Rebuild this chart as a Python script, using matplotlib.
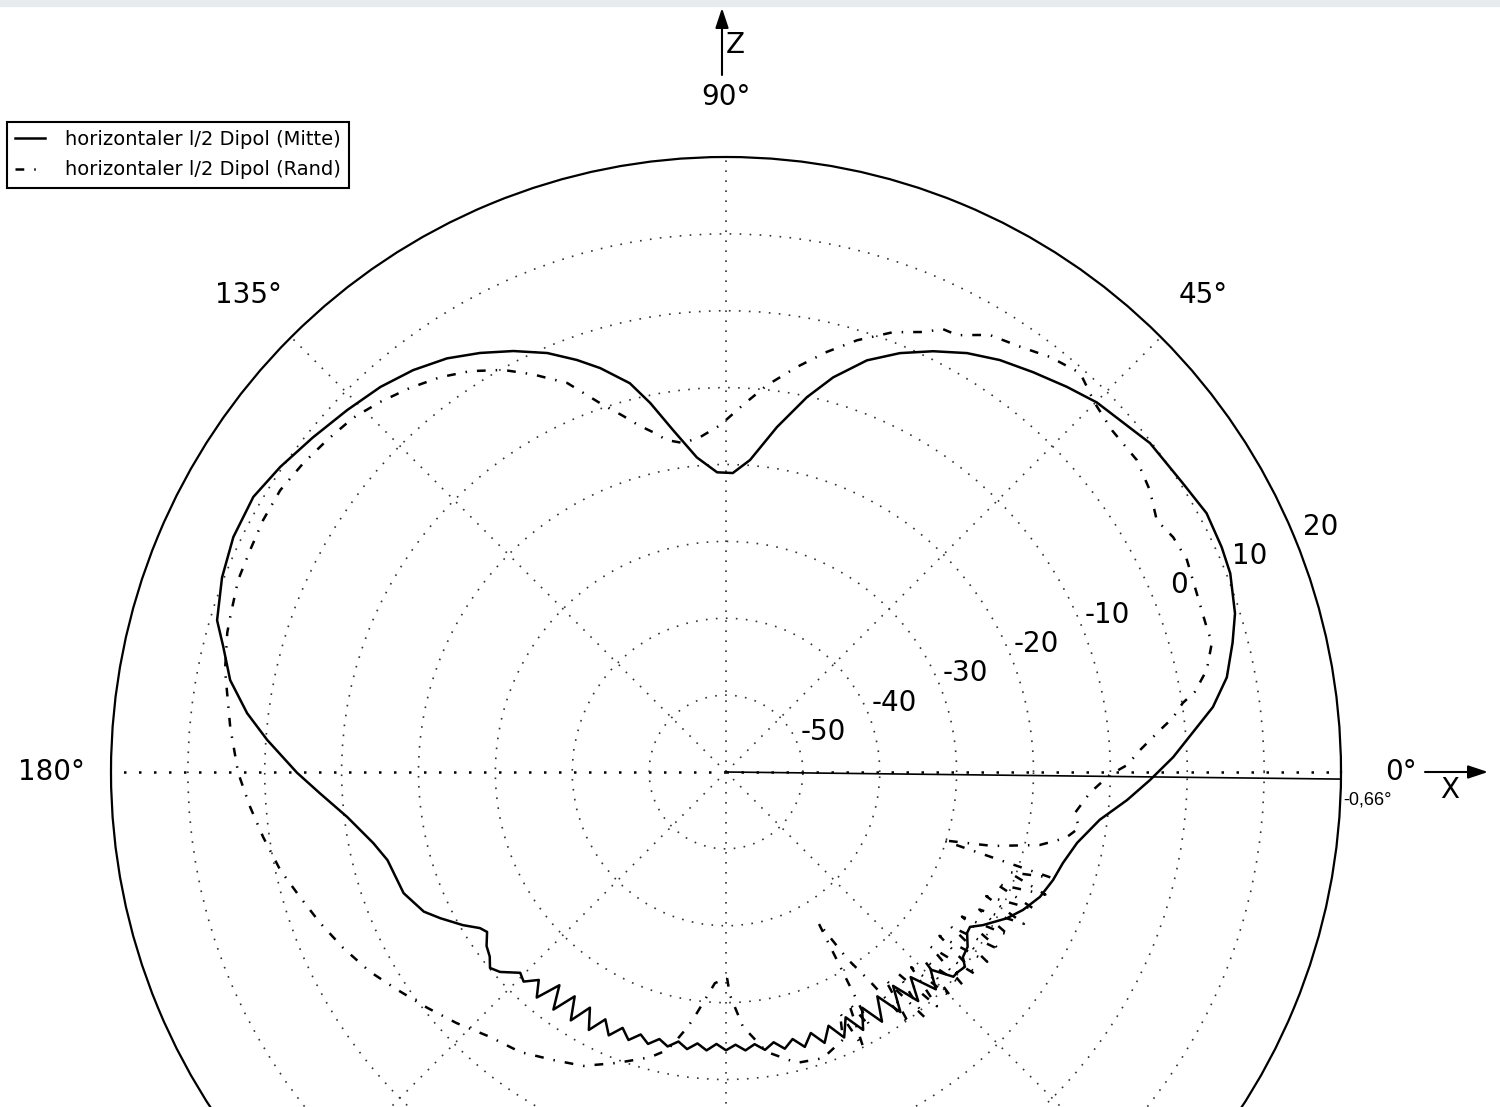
import numpy as np
import matplotlib
matplotlib.use("Agg")
import matplotlib.pyplot as plt
from matplotlib.patches import Rectangle

# Mitte (solid) pattern: angle in degrees, level in dB
mitte_deg = [-41.0, -39.2, -38.0, -35.9, -33.7, -32.4, -30.8, -27.5, -24.9, -21.7,
             -18.3, -15.1, -11.4, -7.3, -4.0, -1.1, 1.9, 4.8, 7.6, 10.7,
             14.3, 17.3, 21.5, 24.4, 28.3, 32.3, 37.8, 44.9, 48.5, 52.5,
             56.4, 60.1, 63.8, 67.45, 71.1, 74.8, 77.8, 81.6, 85.6, 88.7,
             91.7, 95.3, 98.8, 101.6, 103.9, 107.3, 109.9, 113.1, 116.8, 120.4,
             124.0, 127.9, 131.9, 136.3, 141.0, 145.6, 149.8, 154.5, 158.9, 163.4,
             166.0, 169.5, 173.0, 176.0, 180.1, 183.0, 186.8, 191.4, 194.6, 200.6,
             204.8, 207.1, 210.2, 212.4, 213.8, 216.0, 218.0, 219.7, 221.5, 224.3,
             226, 228, 230, 232, 234, 236, 238, 240, 242, 244,
             246, 248, 250, 252, 254, 256, 258, 260, 262, 264,
             266, 268, 270, 272, 274, 276, 278, 280, 282, 284,
             286, 288, 290, 292, 294, 296, 298, 300, 302, 304,
             306, 308, 310, 312, 314, 316, 318]
mitte_db = [-20.2, -19.9, -20.9, -21.2, -22.3, -22.4, -21.1, -18.8, -17.4, -16.05,
            -15.2, -14.6, -13.4, -11.0, -7.7, -4.85, -1.8, 0.9, 3.9, 6.3,
            8.0, 9.35, 10.5, 10.8, 11.0, 10.3, 9.8, 8.1, 6.9, 5.57,
            4.34, 2.86, 1.0, -1.0, -3.4, -6.8, -10.1, -14.65, -19.3, -21.1,
            -21.0, -18.9, -15.0, -11.0, -7.9, -4.97, -3.0, -0.75, 1.35, 3.2,
            4.9, 6.25, 7.3, 8.15, 9.15, 10.26, 11.14, 11.0, 10.27, 9.08,
            7.4, 5.6, 2.76, -0.17, -4.2, -7.1, -10.4, -13.2, -14.5, -15.2,
            -16.7, -18.25, -20.4, -22.1, -22.6, -21.5, -21.0, -20.1, -20.75, -22.6,
            -22.1, -23.6, -21.7, -24.8, -21.8, -24.8, -21.9, -24.6, -22.0, -24.2,
            -22.5, -24.1, -22.9, -24.1, -23.2, -24.2, -23.5, -24.4, -23.6, -24.5,
            -23.7, -24.6, -23.8, -24.5, -23.7, -24.4, -23.5, -24.3, -23.2, -24.2,
            -22.8, -24.3, -22.5, -24.4, -22.2, -24.5, -22.0, -24.6, -21.7, -24.8,
            -21.4, -24.7, -21.1, -24.1, -20.7, -23.0, -20.2]

# Rand (dash-dot) pattern
rand_deg = [-89.7, -89.0, -86.2, -81.7, -76.3, -71.3, -66.4, -64.7, -63.5, -62.0,
            -60.5, -58.5, -57.0, -55.5, -54.0, -52.5, -51.0, -49.5, -48.0, -46.5,
            -45.0, -43.5, -42.0, -40.5, -39.0, -37.5, -36.0, -34.5, -33.0, -31.5,
            -30.0, -28.5, -27.0, -25.5, -24.0, -22.5, -21.0, -19.5, -18.0, -17.5,
            -15.5, -13.1, -11.0, -9.0, -6.7, -3.3, -0.45, 1.0, 3.0, 5.5,
            6.9, 8.6, 9.7, 12.0, 14.9, 16.8, 20.8, 24.7, 27.7, 30.3,
            33.6, 37.2, 41.5, 45.0, 48.4, 52.0, 55.2, 58.9, 62.1, 63.9,
            65.9, 69.2, 73.1, 76.5, 80.05, 83.95, 87.35, 91.0, 94.4, 97.4,
            100.1, 102.1, 104.2, 106.1, 108.85, 112.2, 115.9, 119.0, 122.55, 125.9,
            129.45, 133.1, 136.5, 140.2, 143.85, 147.7, 151.45, 155.0, 158.5, 162.6,
            164.4, 168.5, 174.8, 180.1, 184.2, 188.0, 192.4, 196.4, 200.4, 204.7,
            209.3, 213.5, 218.3, 223.0, 228.3, 233.7, 239.0, 244.1, 249.5, 255.1,
            258.0, 259.6, 261.5, 263.1, 267.0]
rand_db = [-33.2, -31.0, -26.8, -23.2, -21.05, -20.7, -22.0, -25.3, -20.0, -26.0,
           -22.0, -37.0, -31.0, -27.0, -19.5, -26.0, -19.0, -25.5, -19.0, -25.0,
           -18.5, -24.5, -18.5, -25.0, -18.0, -25.0, -18.0, -24.5, -17.5, -24.0,
           -17.5, -22.5, -16.5, -22.5, -16.0, -22.0, -15.5, -21.0, -15.5, -30.5,
           -24.0, -18.1, -15.0, -13.5, -14.3, -12.6, -10.1, -7.8, -6.1, -3.3,
           -1.46, 0.1, 1.87, 3.94, 5.4, 5.3, 5.5, 6.0, 5.7, 4.9,
           6.2, 7.1, 7.06, 7.85, 9.4, 8.5, 7.3, 6.4, 4.3, 4.15,
           2.7, 1.2, -1.3, -3.8, -6.5, -9.4, -12.2, -14.9, -16.3, -16.85,
           -16.15, -14.8, -13.45, -11.8, -9.3, -5.35, -2.5, -0.2, 1.86, 3.4,
           4.7, 5.9, 6.9, 7.5, 8.1, 8.6, 8.55, 8.3, 8.2, 7.58,
           7.36, 6.5, 4.76, 3.46, 2.07, 0.8, -0.63, -2.26, -3.67, -5.2,
           -6.9, -8.7, -10.5, -12.1, -13.85, -14.8, -16.3, -17.5, -19.6, -21.6,
           -23.0, -24.6, -26.5, -28.4, -32.5]

ring_levels = [-50, -40, -30, -20, -10, 0, 10, 20]
angle_labels = {0: "0°", 45: "45°", 90: "90°", 135: "135°", 180: "180°"}
labels = ["horizontaler l/2 Dipol (Mitte)", "horizontaler l/2 Dipol (Rand)"]
tilt_deg = -0.66

W, H = 1500, 1107
fig = plt.figure(figsize=(W / 100, H / 100), dpi=100)
fig.patches.append(Rectangle((0, 1 - 6 / H), 1, 6 / H, transform=fig.transFigure,
                             color="#e8ebee", zorder=0))

# polar axes: centre (726, 772) px, radius 615 px, lower part runs off the figure
cx, cy, R = 726, 772, 615
ax = fig.add_axes([(cx - R) / W, (H - cy - R) / H, 2 * R / W, 2 * R / H], projection="polar")
ax.set_ylim(-60, 20)
ax.set_thetagrids(range(0, 360, 45), labels=[""] * 8)
ax.set_rgrids(ring_levels[:-1], labels=[""] * 7)
ax.grid(True, color="#333333", linestyle=(0, (1, 5)), linewidth=1.2)
gl = ax.xaxis.get_gridlines()
for i in (0, 4):
    gl[i].set_linewidth(1.8)
    gl[i].set_color("black")
ax.spines["polar"].set_linewidth(1.6)
ax.spines["polar"].set_color("black")
ax.tick_params(length=0)

th_m = np.deg2rad(np.append(mitte_deg, mitte_deg[0] + 360))
r_m = np.append(mitte_db, mitte_db[0])
ax.plot(th_m, r_m, color="black", lw=1.8, solid_joinstyle="round", label=labels[0])

th_r = np.deg2rad(np.append(rand_deg, rand_deg[0] + 360))
r_r = np.append(rand_db, rand_db[0])
ax.plot(th_r, r_r, color="black", lw=1.8, linestyle=(0, (3.5, 4, 0.6, 4)),
        dash_joinstyle="round", label=labels[1])

ax.plot(np.deg2rad([tilt_deg, tilt_deg]), [-60, 20], color="black", lw=1.2)

for lev in ring_levels:
    ax.text(np.deg2rad(22.4), lev + 3.7, str(lev), fontsize=20, ha="center", va="center")
for a, s in angle_labels.items():
    ax.text(np.deg2rad(a), 27.8, s, fontsize=20, ha="center", va="center", clip_on=False)

# axis arrows Z and X
arrow = dict(arrowstyle="-|>,head_length=0.6,head_width=0.2", color="black", lw=1.5,
             shrinkA=0, shrinkB=0, mutation_scale=20)
ax.annotate("", xy=(722 / W, 1 - 8 / H), xytext=(722 / W, 1 - 75 / H),
            xycoords="figure fraction", textcoords="figure fraction", arrowprops=arrow,
            annotation_clip=False)
ax.annotate("", xy=(1488 / W, 1 - 772 / H), xytext=(1425 / W, 1 - 772 / H),
            xycoords="figure fraction", textcoords="figure fraction", arrowprops=arrow,
            annotation_clip=False)
fig.text(735 / W, 1 - 45 / H, "Z", fontsize=20, ha="center", va="center")
fig.text(1450 / W, 1 - 790 / H, "X", fontsize=20, ha="center", va="center")
fig.text(1343 / W, 1 - 800 / H, "-0,66°", fontsize=13, family="Liberation Sans",
         ha="left", va="center")

leg = fig.legend(loc="upper left", bbox_to_anchor=(7 / W, 1 - 122 / H), borderaxespad=0,
                 fontsize=14, frameon=True, fancybox=False, edgecolor="black", framealpha=1,
                 handlelength=1.55, handletextpad=1.0, labelspacing=0.58, borderpad=0.42)
leg.get_frame().set_linewidth(1.5)

fig.savefig("out.png", dpi=100)
